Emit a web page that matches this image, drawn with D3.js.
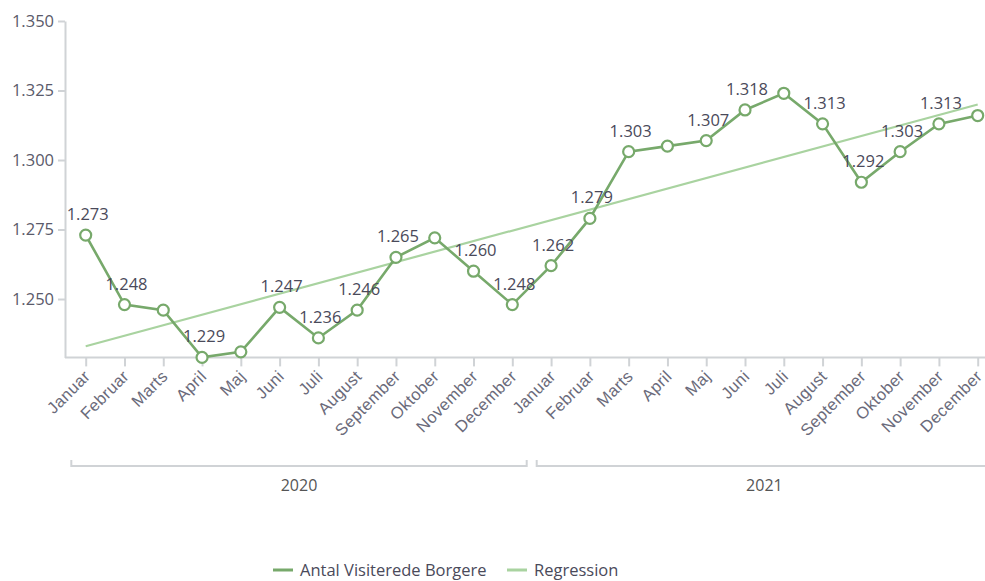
<!DOCTYPE html>
<html>
<head>
<meta charset="utf-8">
<script src="https://cdn.jsdelivr.net/npm/d3@7/dist/d3.min.js"></script>
<style>
  html, body { margin: 0; padding: 0; background: #fff; }
  svg { display: block; font-family: "Open Sans", "Noto Sans", sans-serif; }
</style>
</head>
<body>
<svg id="chart" width="985" height="581"></svg>
<script>
const years = ["2020", "2021"];
const months = ["Januar","Februar","Marts","April","Maj","Juni","Juli","August","September","Oktober","November","December"];
const values = [1273,1248,1246,1229,1231,1247,1236,1246,1265,1272,1260,1248,
                1262,1279,1303,1305,1307,1318,1324,1313,1292,1303,1313,1316];
const showLabel = [true,true,false,true,false,true,true,true,true,false,true,true,
                   true,true,true,false,true,true,false,true,true,true,true,false];
const yTicks = [1250,1275,1300,1325,1350];
const seriesNames = ["Antal Visiterede Borgere", "Regression"];

const data = values.map((v, i) => ({
  key: years[Math.floor(i / 12)] + "-" + months[i % 12],
  year: years[Math.floor(i / 12)],
  month: months[i % 12],
  i, v, label: showLabel[i]
}));

// least squares regression
const n = values.length;
const mx = d3.mean(data, d => d.i), my = d3.mean(values);
const slope = d3.sum(data, d => (d.i - mx) * (d.v - my)) / d3.sum(data, d => (d.i - mx) ** 2);
const icpt = my - slope * mx;
const reg = [data[0], data[n - 1]].map(d => ({ key: d.key, v: icpt + slope * d.i }));

const locale = d3.formatLocale({ decimal: ",", thousands: ".", grouping: [3], currency: ["", " kr."] });
const fmt = locale.format(",d");

const svg = d3.select("#chart");
const C_MAIN = "#77a96b", C_REG = "#a9d3a0";

const x = d3.scalePoint().domain(data.map(d => d.key)).range([85.7, 977.7]);
const step = x.step();
const y = d3.scaleLinear().domain([d3.min(values), 1350]).range([357.4, 21]);

// y axis
const yAxis = svg.append("g").attr("transform", "translate(65,0)")
  .call(d3.axisLeft(y).tickValues(yTicks).tickFormat(fmt).tickSize(7).tickSizeOuter(0));
yAxis.select(".domain").attr("stroke", "#d0d3d6").attr("stroke-width", 2);
yAxis.selectAll(".tick line").attr("stroke", "#d0d3d6").attr("stroke-width", 2);
yAxis.selectAll(".tick text").attr("fill", "#5a5a6a").attr("font-size", 16.5).attr("x", -11)
  .attr("font-family", "'Open Sans', sans-serif");

// x axis
const xAxis = svg.append("g").attr("transform", "translate(0,357.4)")
  .call(d3.axisBottom(x).tickSize(9).tickSizeOuter(0).tickFormat(k => k.split("-")[1]));
xAxis.select(".domain").attr("d", "M65,0H985").attr("stroke", "#d0d3d6").attr("stroke-width", 2);
xAxis.selectAll(".tick line").attr("stroke", "#d0d3d6").attr("stroke-width", 2);
xAxis.selectAll(".tick text")
  .attr("fill", "#6a6a7a").attr("font-size", 16.5)
  .attr("letter-spacing", "0.4px")
  .attr("text-anchor", "end")
  .attr("dy", null).attr("y", null)
  .attr("transform", "translate(5,20) rotate(-45)");

// year group brackets
years.forEach(yr => {
  const ds = data.filter(d => d.year === yr);
  const x0 = x(ds[0].key) - step / 2 + 5;
  const x1 = x(ds[ds.length - 1].key) + step / 2 - 5;
  svg.append("path")
    .attr("d", `M${x0},460V466H${x1}V460`)
    .attr("fill", "none").attr("stroke", "#d0d3d6").attr("stroke-width", 2);
  svg.append("text")
    .attr("x", (x0 + x1) / 2).attr("y", 491)
    .attr("text-anchor", "middle").attr("font-size", 16).attr("fill", "#555")
    .text(yr);
});

// regression line
svg.append("path").datum(reg)
  .attr("d", d3.line().x(d => x(d.key)).y(d => y(d.v)))
  .attr("fill", "none").attr("stroke", C_REG).attr("stroke-width", 2.2);

// main line
svg.append("path").datum(data)
  .attr("d", d3.line().x(d => x(d.key)).y(d => y(d.v)))
  .attr("fill", "none").attr("stroke", C_MAIN).attr("stroke-width", 2.6);

svg.append("g").selectAll("circle").data(data).join("circle")
  .attr("cx", d => x(d.key)).attr("cy", d => y(d.v)).attr("r", 5.5)
  .attr("fill", "#fff").attr("stroke", C_MAIN).attr("stroke-width", 2.2);

// data labels
svg.append("g").selectAll("text").data(data.filter(d => d.label)).join("text")
  .attr("x", d => x(d.key) + 2).attr("y", d => y(d.v) - 15)
  .attr("text-anchor", "middle").attr("font-size", 16.5).attr("fill", "#4a4a5a")
  .text(d => fmt(d.v));

// legend
const legend = svg.append("g").attr("transform", "translate(0,570)");
const items = [{ name: seriesNames[0], c: C_MAIN, x: 273 }, { name: seriesNames[1], c: C_REG, x: 507 }];
items.forEach(it => {
  legend.append("line").attr("x1", it.x).attr("x2", it.x + 20).attr("y1", 0).attr("y2", 0)
    .attr("stroke", it.c).attr("stroke-width", 3);
  legend.append("text").attr("x", it.x + 27).attr("y", 0).attr("dy", "0.35em")
    .attr("font-size", 16.5).attr("fill", "#4a4a5a").text(it.name);
});
</script>
</body>
</html>
